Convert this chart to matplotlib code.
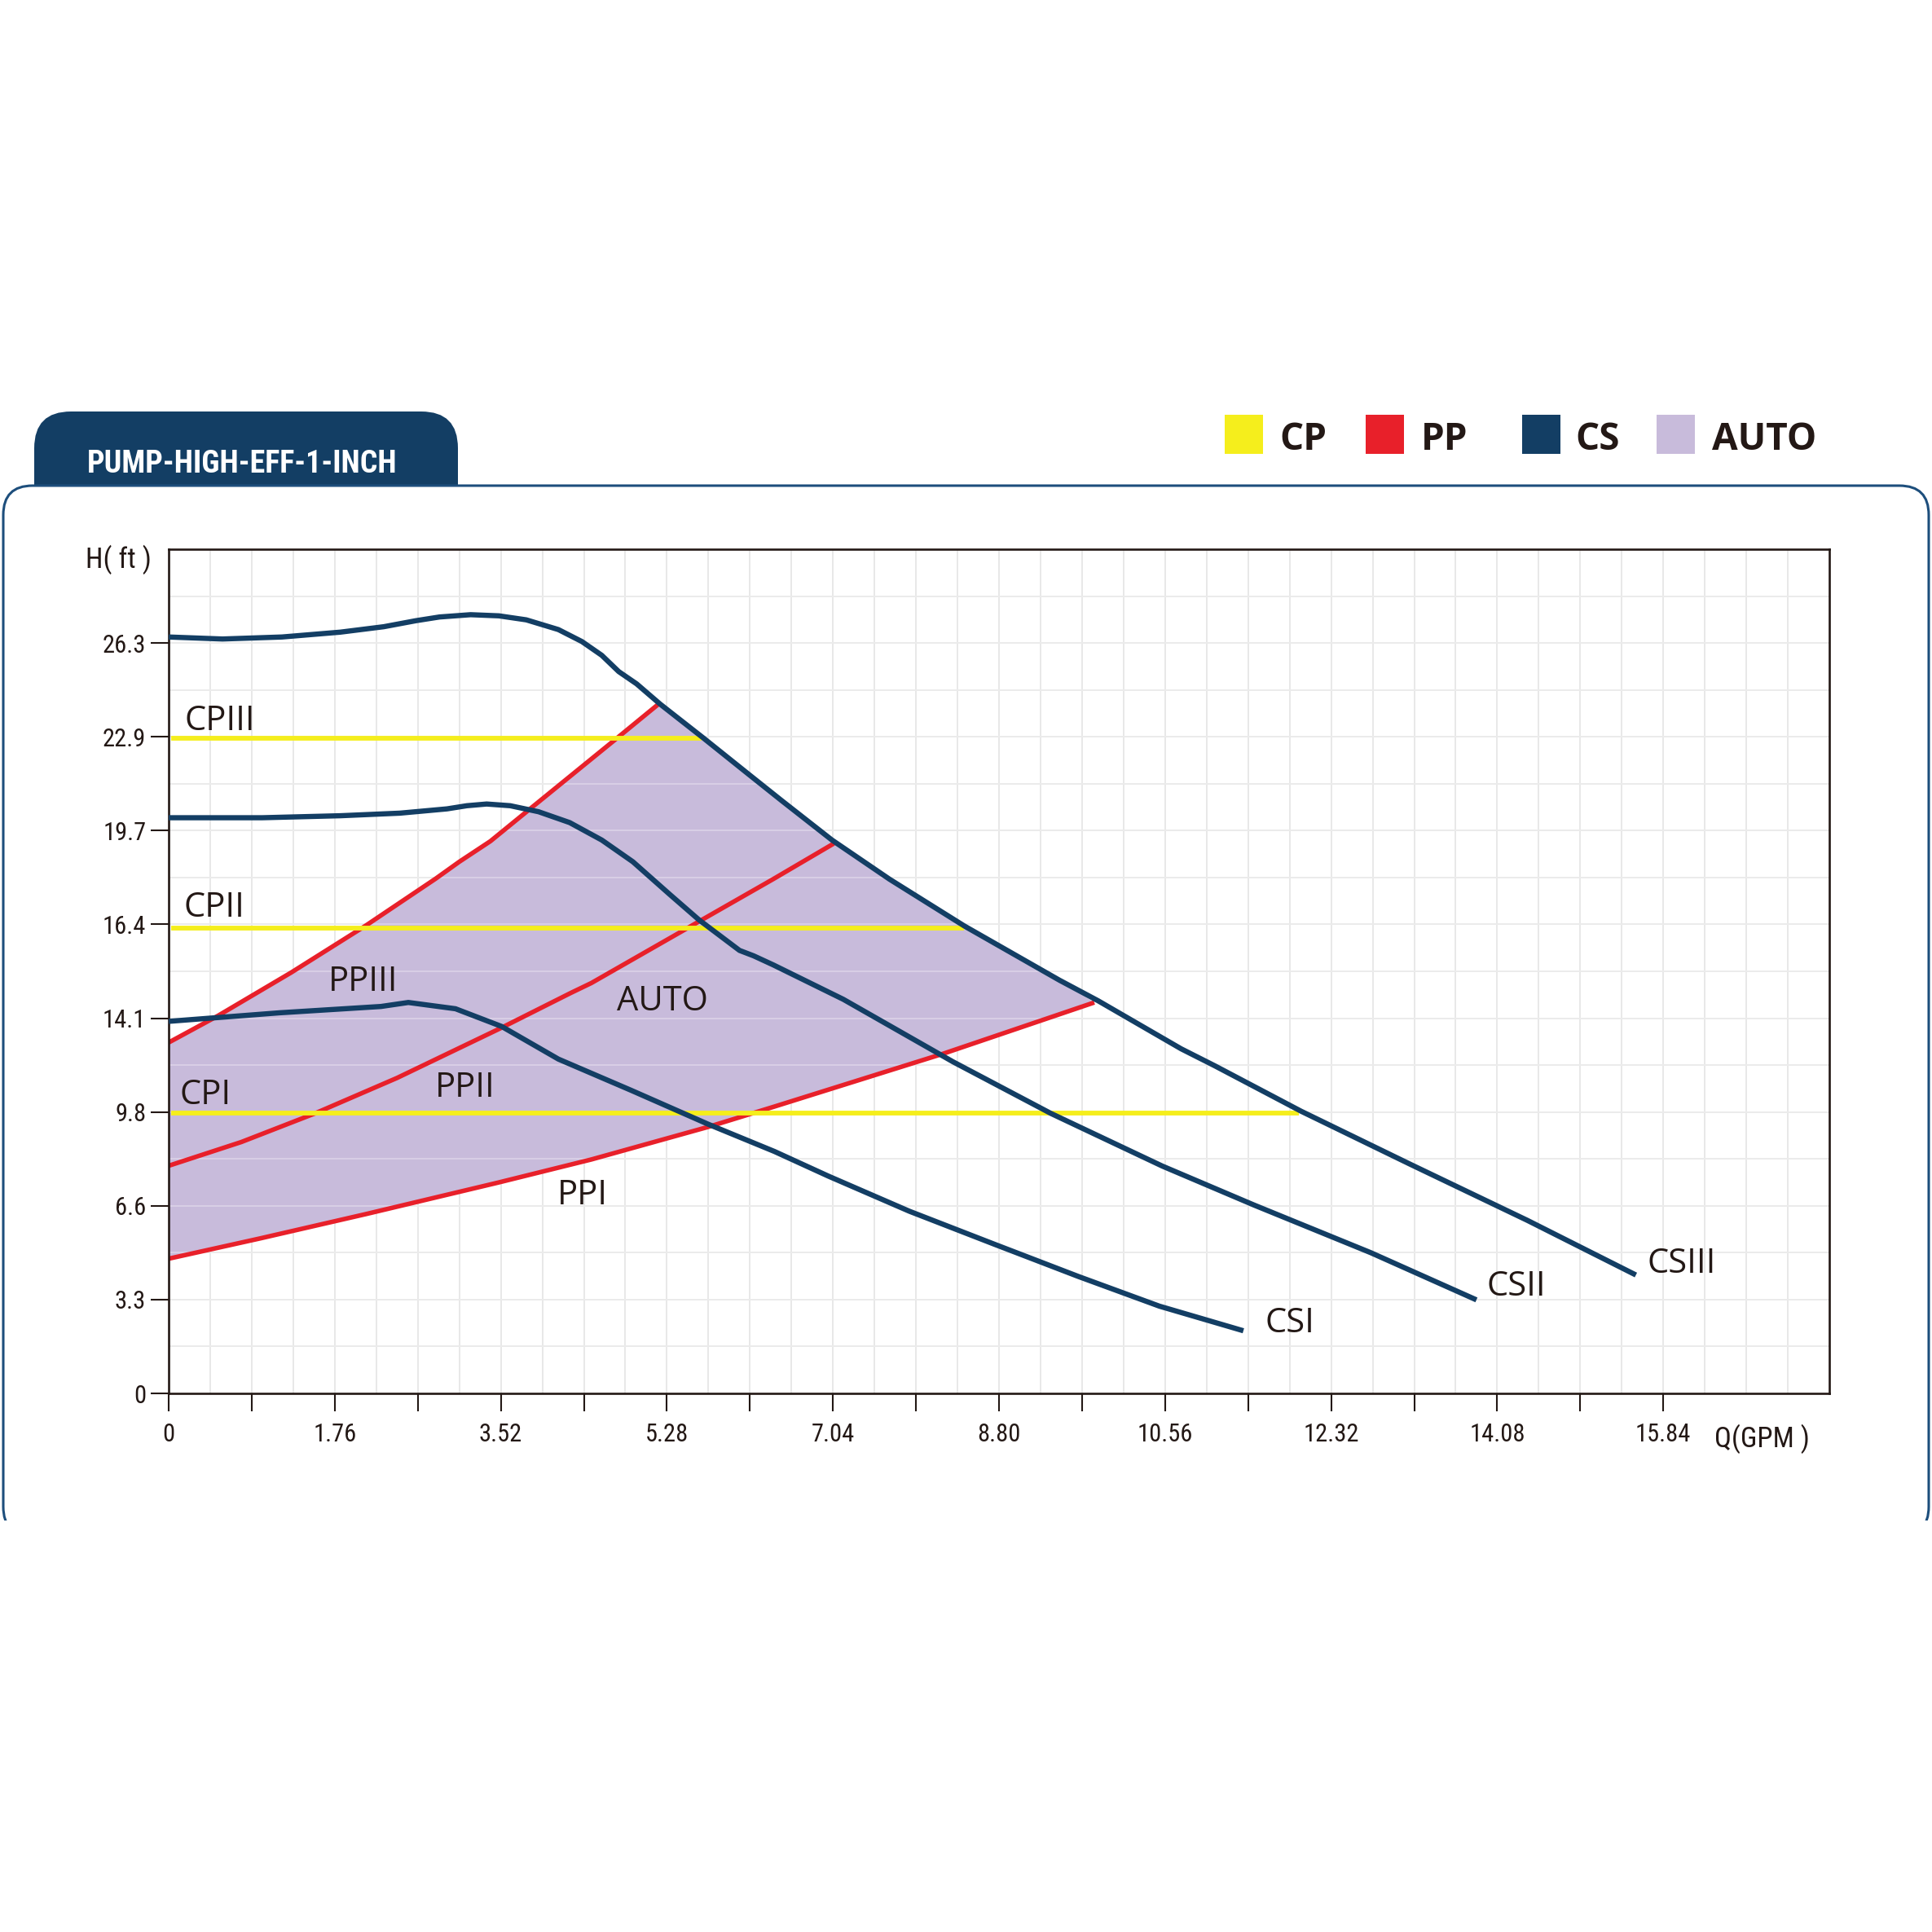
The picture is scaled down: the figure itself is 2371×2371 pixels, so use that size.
import numpy as np
import matplotlib
matplotlib.use('Agg')
import matplotlib.pyplot as plt
from matplotlib import font_manager
from matplotlib.patches import FancyBboxPatch, Rectangle
from matplotlib.ticker import FixedLocator

# ---------------- data ----------------
q_ticks = [0, 1.76, 3.52, 5.28, 7.04, 8.80, 10.56, 12.32, 14.08, 15.84]
q_tick_labels = ['0', '1.76', '3.52', '5.28', '7.04', '8.80', '10.56', '12.32', '14.08', '15.84']
q_minor = [0.88, 2.64, 4.40, 6.16, 7.92, 9.68, 11.44, 13.20, 14.96]
h_ticks = [0, 3.28, 6.56, 9.84, 13.12, 16.40, 19.68, 22.96, 26.24]
h_tick_labels = ['0', '3.3', '6.6', '9.8', '14.1', '16.4', '19.7', '22.9', '26.3']

# CS (constant speed) curves
cs3_q = [0.00, 0.57, 1.20, 1.82, 2.28, 2.62, 2.87, 3.20, 3.50, 3.79, 4.13, 4.38, 4.59, 4.77, 4.96,
         5.21, 5.67, 6.12, 6.50, 7.03, 7.64, 8.43, 9.44, 9.85, 10.73, 11.09, 12.00, 13.16, 14.40, 15.55]
cs3_h = [26.45, 26.38, 26.45, 26.62, 26.81, 27.02, 27.15, 27.23, 27.19, 27.05, 26.71, 26.29, 25.81, 25.24, 24.81,
         24.10, 22.91, 21.72, 20.72, 19.35, 17.98, 16.35, 14.45, 13.73, 12.05, 11.45, 9.87, 8.01, 6.05, 4.14]
cs2_q = [0.00, 0.99, 1.82, 2.45, 2.95, 3.16, 3.37, 3.62, 3.92, 4.25, 4.59, 4.92, 5.31, 5.62, 6.05, 6.20,
         6.41, 7.15, 8.31, 9.35, 10.53, 11.50, 12.74, 13.86]
cs2_h = [20.13, 20.13, 20.20, 20.29, 20.44, 20.55, 20.61, 20.55, 20.34, 19.96, 19.35, 18.59, 17.45, 16.56, 15.49, 15.30,
         14.98, 13.78, 11.60, 9.79, 7.95, 6.59, 4.92, 3.27]
cs1_q = [0.00, 1.18, 2.25, 2.54, 3.04, 3.53, 4.13, 4.90, 5.72, 6.42, 6.99, 7.85, 8.74, 9.64, 10.50, 11.39]
cs1_h = [13.01, 13.31, 13.53, 13.67, 13.45, 12.83, 11.69, 10.60, 9.41, 8.46, 7.60, 6.37, 5.23, 4.09, 3.05, 2.19]

# PP (proportional pressure) curves
pp3_q = [0.00, 0.52, 1.30, 2.09, 2.83, 3.08, 3.41, 3.83, 4.75, 5.19]
pp3_h = [12.27, 13.20, 14.72, 16.36, 18.00, 18.59, 19.31, 20.44, 22.91, 24.10]
pp2_q = [0.00, 0.77, 1.55, 2.42, 3.53, 4.26, 4.48, 5.54, 6.41, 7.05]
pp2_h = [7.96, 8.79, 9.79, 11.03, 12.79, 14.00, 14.35, 16.35, 17.99, 19.23]
pp1_q = [0.00, 0.97, 2.09, 3.49, 4.48, 5.72, 6.42, 8.21, 9.39, 9.81]
pp1_h = [4.71, 5.42, 6.27, 7.37, 8.18, 9.32, 10.03, 11.88, 13.20, 13.67]

# CP (constant pressure) levels and their end flow
cp_names = ['CPI', 'CPII', 'CPIII']
cp_level = [9.81, 16.28, 22.91]
cp_end = [11.98, 8.43, 5.65]

# labels (name, q, h)
curve_labels = [('CPIII', 0.17, 23.2), ('CPII', 0.16, 16.68), ('CPI', 0.12, 10.12),
                ('PPIII', 1.69, 14.07), ('PPII', 2.82, 10.36), ('AUTO', 4.75, 13.40),
                ('PPI', 4.12, 6.62), ('CSI', 11.62, 2.14), ('CSII', 13.97, 3.43),
                ('CSIII', 15.67, 4.23)]

legend_names = ['CP', 'PP', 'CS', 'AUTO']
title_text = 'PUMP-HIGH-EFF-1-INCH'

# ---------------- style ----------------
C_BLUE = '#133e64'
C_RED = '#e8202a'
C_YEL = '#f5ee1c'
C_LAV = '#c8bbdb'
C_TXT = '#231815'
C_GRID = '#e4e4e4'
W = 2371.0

_names = {f.name for f in font_manager.fontManager.ttflist}
_narrow = next((n for n in ['Liberation Sans Narrow', 'Roboto Condensed', 'Open Sans Condensed',
                            'Roboto'] if n in _names), 'DejaVu Sans')
NARROW = [_narrow, 'DejaVu Sans']
REG = ['Open Sans', 'DejaVu Sans']


def fx(px):
    return px / W


def fy(py):
    return 1 - py / W


fig = plt.figure(figsize=(23.71, 23.71), dpi=100)
fig.patch.set_facecolor('white')

ax = fig.add_axes([fx(207), fy(1710), (2245 - 207) / W, (1710 - 674) / W])
ax.set_xlim(0, 17.6)
ax.set_ylim(0, 29.52)

# grid
for gx in np.arange(0.44, 17.6, 0.44):
    ax.axvline(gx, color=C_GRID, lw=1.2, zorder=0)
for gy in np.arange(1.64, 29.5, 1.64):
    ax.axhline(gy, color=C_GRID, lw=1.4, zorder=0)

# AUTO region
cs3_qa = np.array(cs3_q)
cs3_ha = np.array(cs3_h)
m = (cs3_qa > pp3_q[-1]) & (cs3_qa < pp1_q[-1])
poly_q = np.concatenate([pp1_q, cs3_qa[m][::-1], pp3_q[::-1]])
poly_h = np.concatenate([pp1_h, cs3_ha[m][::-1], pp3_h[::-1]])
ax.fill(poly_q, poly_h, color=C_LAV, lw=0, zorder=1)
for gy in np.arange(1.64, 29.5, 1.64):
    ax.axhline(gy, color='white', lw=1.4, alpha=0.3, zorder=1.5)

# PP curves
for q, h in [(pp1_q, pp1_h), (pp2_q, pp2_h), (pp3_q, pp3_h)]:
    ax.plot(q, h, color=C_RED, lw=4.0, solid_capstyle='butt', solid_joinstyle='round', zorder=2)

# CP lines
for lvl, end in zip(cp_level, cp_end):
    ax.plot([0.03, end], [lvl, lvl], color=C_YEL, lw=4.2, solid_capstyle='butt', zorder=3)

# CS curves
for q, h in [(cs1_q, cs1_h), (cs2_q, cs2_h), (cs3_q, cs3_h)]:
    ax.plot(q, h, color=C_BLUE, lw=4.6, solid_capstyle='butt', solid_joinstyle='round', zorder=4)

for name, q, h in curve_labels:
    ax.text(q, h, name, fontsize=30, family=REG, color=C_TXT, ha='left', va='baseline', zorder=6)

# axes styling
for s in ax.spines.values():
    s.set_color(C_TXT)
    s.set_linewidth(1.9)
ax.xaxis.set_major_locator(FixedLocator(q_ticks))
ax.xaxis.set_minor_locator(FixedLocator(q_minor))
ax.set_xticklabels(q_tick_labels)
ax.yaxis.set_major_locator(FixedLocator(h_ticks))
ax.set_yticklabels(h_tick_labels)
ax.tick_params(axis='x', which='both', direction='out', length=16, width=1.5, color=C_TXT,
               pad=10, labelsize=22, labelcolor=C_TXT)
ax.tick_params(axis='y', which='major', direction='out', length=16, width=1.5, color=C_TXT,
               pad=4, labelsize=22, labelcolor=C_TXT)
for lab in ax.get_xticklabels() + ax.get_yticklabels():
    lab.set_family(NARROW)

fig.text(fx(105), fy(697), 'H( ft )', fontsize=25, family=NARROW, color=C_TXT, ha='left', va='baseline')
fig.text(fx(2104), fy(1776), 'Q(GPM )', fontsize=25, family=NARROW, color=C_TXT, ha='left', va='baseline')

# outer panel
box = FancyBboxPatch((fx(4), fy(1885)), (2367 - 4) / W, (1885 - 596) / W,
                     boxstyle='round,pad=0,rounding_size=%f' % (36 / W),
                     transform=fig.transFigure, facecolor='none', edgecolor='#1d4e7c', lw=2.2, zorder=5)
fig.add_artist(box)
clip_box = Rectangle((0, fy(1866)), 1, 1866 / W, transform=fig.transFigure)
box.set_clip_path(clip_box)

# tab
tab = FancyBboxPatch((fx(42), fy(660)), (562 - 42) / W, (660 - 505) / W,
                     boxstyle='round,pad=0,rounding_size=%f' % (45 / W),
                     transform=fig.transFigure, facecolor=C_BLUE, edgecolor='none', zorder=4)
fig.add_artist(tab)
clip_tab = Rectangle((0, fy(596)), 1, 596 / W, transform=fig.transFigure)
tab.set_clip_path(clip_tab)
tt = fig.text(fx(107), fy(580), title_text, fontsize=30, family=NARROW, weight='bold',
              color='white', ha='left', va='baseline', zorder=6)
_r = fig.canvas.get_renderer()
_wbb = tt.get_window_extent(_r).width
tt.set_fontsize(min(34, 30 * 380.0 / _wbb))

# legend
leg_sq_x = [1503, 1676, 1868, 2033]
leg_tx_x = [1570, 1744, 1933, 2101]
leg_col = [C_YEL, C_RED, C_BLUE, C_LAV]
for name, sx, tx, c in zip(legend_names, leg_sq_x, leg_tx_x, leg_col):
    fig.add_artist(Rectangle((fx(sx), fy(557)), 47 / W, 48 / W, transform=fig.transFigure,
                             facecolor=c, edgecolor='none'))
    fig.text(fx(tx), fy(552), name, fontsize=33, family=REG, weight='bold', color=C_TXT,
             ha='left', va='baseline')

fig.savefig('out.png', dpi=100, facecolor='white')
